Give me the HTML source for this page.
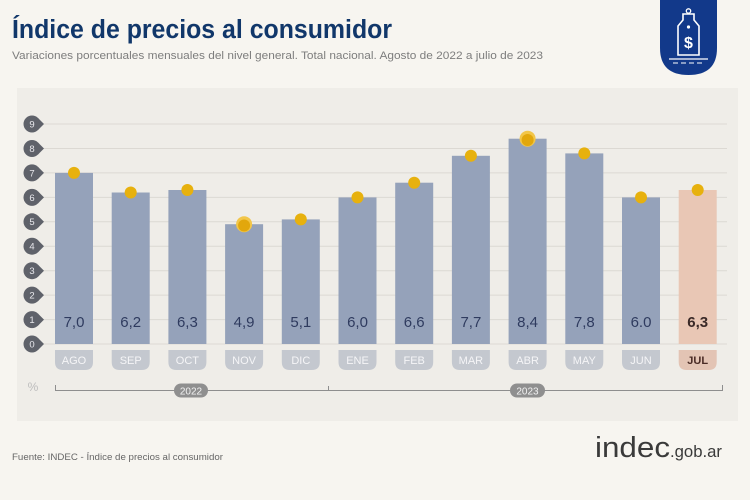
<!DOCTYPE html>
<html><head><meta charset="utf-8"><style>
html,body{margin:0;padding:0;background:#f7f5f0;}
svg{display:block;}
text{font-family:"Liberation Sans",Arial,sans-serif;}
</style></head><body>
<svg width="750" height="500" viewBox="0 0 750 500" xmlns="http://www.w3.org/2000/svg">
<rect x="0" y="0" width="750" height="500" fill="#f7f5f0"/>
<!-- title -->
<text x="12" y="38" font-size="25.5" font-weight="bold" fill="#11376a" textLength="380" lengthAdjust="spacingAndGlyphs">Índice de precios al consumidor</text>
<text x="12" y="59" font-size="11" fill="#7d7d7d" textLength="531" lengthAdjust="spacingAndGlyphs">Variaciones porcentuales mensuales del nivel general. Total nacional. Agosto de 2022 a julio de 2023</text>
<!-- logo shield -->
<path d="M660,0 H717 V48 Q717,75 688.5,75 Q660,75 660,48 Z" fill="#12398a"/>
<path d="M683,14 L694,14 L694,20 L699,26 L699,55 L678,55 L678,26 L683,20 Z" fill="none" stroke="#fff" stroke-width="1.6"/>
<circle cx="688.5" cy="11" r="2.2" fill="none" stroke="#fff" stroke-width="1.3"/>
<circle cx="688.5" cy="27" r="1.6" fill="#fff"/>
<text x="688.5" y="48" font-size="16" font-weight="bold" fill="#fff" text-anchor="middle">$</text>
<line x1="669" y1="59" x2="708" y2="59" stroke="#fff" stroke-width="1.3"/>
<line x1="673" y1="63" x2="704" y2="63" stroke="#fff" stroke-width="1.1" stroke-dasharray="5,3"/>
<!-- panel -->
<rect x="17" y="88" width="721" height="333" fill="#efede8"/>
<!-- gridlines -->
<g stroke="#dcd9d3" stroke-width="1">
<line x1="40" y1="344" x2="727" y2="344"/>
<line x1="40" y1="319.6" x2="727" y2="319.6"/>
<line x1="40" y1="295.1" x2="727" y2="295.1"/>
<line x1="40" y1="270.7" x2="727" y2="270.7"/>
<line x1="40" y1="246.2" x2="727" y2="246.2"/>
<line x1="40" y1="221.8" x2="727" y2="221.8"/>
<line x1="40" y1="197.4" x2="727" y2="197.4"/>
<line x1="40" y1="172.9" x2="727" y2="172.9"/>
<line x1="40" y1="148.5" x2="727" y2="148.5"/>
<line x1="40" y1="124" x2="727" y2="124"/>
</g>
<!-- badges -->
<g fill="#5f626a">
<circle cx="32" cy="344" r="8.5"/><path d="M38,338 L44,344 L38,350Z"/>
<circle cx="32" cy="319.6" r="8.5"/><path d="M38,313.6 L44,319.6 L38,325.6Z"/>
<circle cx="32" cy="295.1" r="8.5"/><path d="M38,289.1 L44,295.1 L38,301.1Z"/>
<circle cx="32" cy="270.7" r="8.5"/><path d="M38,264.7 L44,270.7 L38,276.7Z"/>
<circle cx="32" cy="246.2" r="8.5"/><path d="M38,240.2 L44,246.2 L38,252.2Z"/>
<circle cx="32" cy="221.8" r="8.5"/><path d="M38,215.8 L44,221.8 L38,227.8Z"/>
<circle cx="32" cy="197.4" r="8.5"/><path d="M38,191.4 L44,197.4 L38,203.4Z"/>
<circle cx="32" cy="172.9" r="8.5"/><path d="M38,166.9 L44,172.9 L38,178.9Z"/>
<circle cx="32" cy="148.5" r="8.5"/><path d="M38,142.5 L44,148.5 L38,154.5Z"/>
<circle cx="32" cy="124" r="8.5"/><path d="M38,118 L44,124 L38,130Z"/>
</g>
<g fill="#e8e8ec" font-size="9.5" text-anchor="middle">
<text x="32" y="347.5">0</text><text x="32" y="323">1</text><text x="32" y="298.5">2</text>
<text x="32" y="274">3</text><text x="32" y="249.6">4</text><text x="32" y="225.2">5</text>
<text x="32" y="200.8">6</text><text x="32" y="176.3">7</text><text x="32" y="151.9">8</text>
<text x="32" y="127.4">9</text>
</g>
<!-- bars -->
<g fill="#95a2ba">
<rect x="55" y="172.9" width="38" height="171.1"/>
<rect x="111.7" y="192.5" width="38" height="151.5"/>
<rect x="168.4" y="190" width="38" height="154"/>
<rect x="225.1" y="224.2" width="38" height="119.8"/>
<rect x="281.8" y="219.4" width="38" height="124.6"/>
<rect x="338.5" y="197.4" width="38" height="146.6"/>
<rect x="395.2" y="182.7" width="38" height="161.3"/>
<rect x="451.9" y="155.8" width="38" height="188.2"/>
<rect x="508.6" y="138.7" width="38" height="205.3"/>
<rect x="565.3" y="153.4" width="38" height="190.6"/>
<rect x="622" y="197.4" width="38" height="146.6"/>
</g>
<rect x="678.7" y="190" width="38" height="154" fill="#e9c7b5"/>
<!-- values -->
<g font-size="15" fill="#2f3b5f" text-anchor="middle">
<text x="74" y="327">7,0</text><text x="130.7" y="327">6,2</text><text x="187.4" y="327">6,3</text>
<text x="244.1" y="327">4,9</text><text x="300.8" y="327">5,1</text><text x="357.5" y="327">6,0</text>
<text x="414.2" y="327">6,6</text><text x="470.9" y="327">7,7</text><text x="527.6" y="327">8,4</text>
<text x="584.3" y="327">7,8</text><text x="641" y="327">6.0</text>
</g>
<text x="697.7" y="327" font-size="15" font-weight="bold" fill="#3b2a28" text-anchor="middle">6,3</text>
<!-- dots -->
<g fill="#e7b10e">
<circle cx="74" cy="172.9" r="6"/>
<circle cx="130.7" cy="192.5" r="6"/>
<circle cx="187.4" cy="190" r="6"/>
<circle cx="300.8" cy="219.4" r="6"/>
<circle cx="357.5" cy="197.4" r="6"/>
<circle cx="414.2" cy="182.7" r="6"/>
<circle cx="470.9" cy="155.8" r="6"/>
<circle cx="584.3" cy="153.4" r="6"/>
<circle cx="641" cy="197.4" r="6"/>
<circle cx="697.7" cy="190" r="6"/>
</g>
<circle cx="244.1" cy="224.2" r="8" fill="#f2c649"/><circle cx="244.1" cy="225.5" r="6" fill="#e2a70c"/>
<circle cx="527.6" cy="138.7" r="8" fill="#f2c649"/><circle cx="527.6" cy="140" r="6" fill="#e2a70c"/>
<!-- month pills -->
<g fill="#c4c8cf">
<path d="M55,350 H93 V362 Q93,370 85,370 H63 Q55,370 55,362 Z"/>
<path d="M111.7,350 H149.7 V362 Q149.7,370 141.7,370 H119.7 Q111.7,370 111.7,362 Z"/>
<path d="M168.4,350 H206.4 V362 Q206.4,370 198.4,370 H176.4 Q168.4,370 168.4,362 Z"/>
<path d="M225.1,350 H263.1 V362 Q263.1,370 255.1,370 H233.1 Q225.1,370 225.1,362 Z"/>
<path d="M281.8,350 H319.8 V362 Q319.8,370 311.8,370 H289.8 Q281.8,370 281.8,362 Z"/>
<path d="M338.5,350 H376.5 V362 Q376.5,370 368.5,370 H346.5 Q338.5,370 338.5,362 Z"/>
<path d="M395.2,350 H433.2 V362 Q433.2,370 425.2,370 H403.2 Q395.2,370 395.2,362 Z"/>
<path d="M451.9,350 H489.9 V362 Q489.9,370 481.9,370 H459.9 Q451.9,370 451.9,362 Z"/>
<path d="M508.6,350 H546.6 V362 Q546.6,370 538.6,370 H516.6 Q508.6,370 508.6,362 Z"/>
<path d="M565.3,350 H603.3 V362 Q603.3,370 595.3,370 H573.3 Q565.3,370 565.3,362 Z"/>
<path d="M622,350 H660 V362 Q660,370 652,370 H630 Q622,370 622,362 Z"/>
</g>
<path d="M678.7,350 H716.7 V362 Q716.7,370 708.7,370 H686.7 Q678.7,370 678.7,362 Z" fill="#e3c4b4"/>
<g font-size="11" fill="#f5f5f7" text-anchor="middle">
<text x="74" y="364">AGO</text><text x="130.7" y="364">SEP</text><text x="187.4" y="364">OCT</text>
<text x="244.1" y="364">NOV</text><text x="300.8" y="364">DIC</text><text x="357.5" y="364">ENE</text>
<text x="414.2" y="364">FEB</text><text x="470.9" y="364">MAR</text><text x="527.6" y="364">ABR</text>
<text x="584.3" y="364">MAY</text><text x="641" y="364">JUN</text>
</g>
<text x="697.7" y="364" font-size="11" font-weight="bold" fill="#4a2b25" text-anchor="middle">JUL</text>
<!-- % -->
<text x="33" y="391" font-size="12" fill="#bdbdbd" text-anchor="middle">%</text>
<!-- year axis -->
<g stroke="#8e8e8e" stroke-width="1" fill="none">
<path d="M55.5,385 V390.5 H722.5 V385"/>
<line x1="328.5" y1="386" x2="328.5" y2="390"/>
</g>
<rect x="174" y="383.5" width="34" height="14" rx="7" fill="#8f8f8f"/>
<text x="191" y="394.5" font-size="10" fill="#f2f2f2" text-anchor="middle">2022</text>
<rect x="510" y="383.5" width="35" height="14" rx="7" fill="#8f8f8f"/>
<text x="527.5" y="394.5" font-size="10" fill="#f2f2f2" text-anchor="middle">2023</text>
<!-- footer -->
<text x="12" y="460" font-size="9.5" fill="#666" textLength="211" lengthAdjust="spacingAndGlyphs">Fuente: INDEC - Índice de precios al consumidor</text>
<text x="595" y="457" font-size="29" fill="#3a3a3a" textLength="75" lengthAdjust="spacingAndGlyphs">indec</text>
<text x="670" y="457" font-size="17" fill="#3a3a3a" textLength="52" lengthAdjust="spacingAndGlyphs">.gob.ar</text>
</svg>
</body></html>
